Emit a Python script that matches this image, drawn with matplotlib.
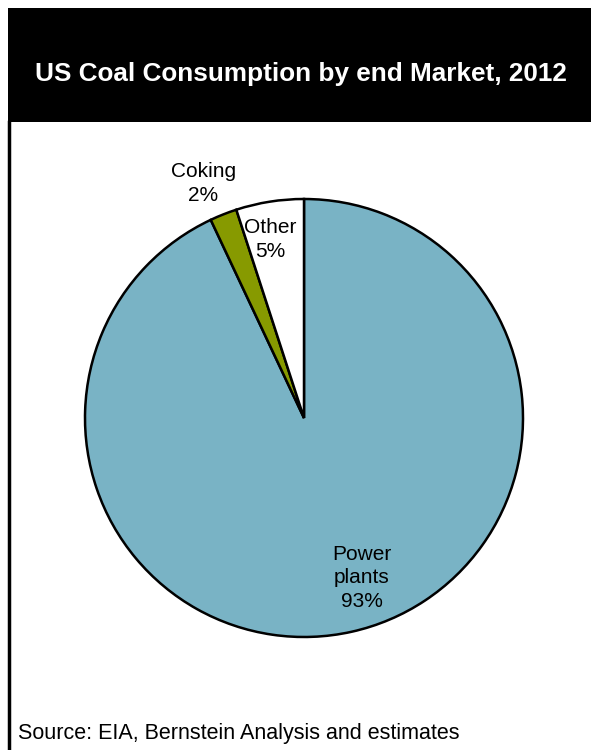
import matplotlib
matplotlib.use("Agg")
import matplotlib.pyplot as plt
from matplotlib.patches import Rectangle
from matplotlib.lines import Line2D

plt.rcParams['font.family'] = ['Liberation Sans', 'DejaVu Sans']

# Data
markets = ['Power\nplants', 'Coking', 'Other']
shares = [93, 2, 5]
colors = ['#79B3C5', '#879A00', '#FFFFFF']
# label anchor points (pie radius = 1)
label_pos = [(0.265, -0.73), (-0.46, 1.07), (-0.155, 0.815)]

W, H = 591, 750
fig = plt.figure(figsize=(W / 100, H / 100), dpi=100)

# black title band and left frame line
fig.add_artist(Rectangle((8 / W, 1 - 122 / H), 1 - 8 / W, 114 / H,
                         transform=fig.transFigure, facecolor='black',
                         edgecolor='none'))
fig.add_artist(Line2D([9 / W, 9 / W], [0, 1 - 122 / H],
                      transform=fig.transFigure, color='black', lw=2.5))
fig.text(301 / W, 1 - 74 / H, 'US Coal Consumption by end Market, 2012',
         color='white', fontsize=18.8, fontweight='bold',
         ha='center', va='center')

# pie centred at (304, 418) px with radius 219 px
cx, cy, r = 304, 418, 219
ax = fig.add_axes([(cx - r) / W, (H - cy - r) / H, 2 * r / W, 2 * r / H])
ax.pie(shares, colors=colors, startangle=90, counterclock=False,
       wedgeprops=dict(edgecolor='black', linewidth=1.8))
ax.set_xlim(-1, 1)
ax.set_ylim(-1, 1)
ax.set_aspect('equal')
ax.axis('off')

for name, val, (x, y) in zip(markets, shares, label_pos):
    ax.text(x, y, f'{name}\n{val}%', ha='center', va='center',
            fontsize=15, linespacing=1.3, color='black')

fig.text(18 / W, 1 - 733 / H, 'Source: EIA, Bernstein Analysis and estimates',
         fontsize=15.5, ha='left', va='center')

fig.savefig('out.png', dpi=100)
